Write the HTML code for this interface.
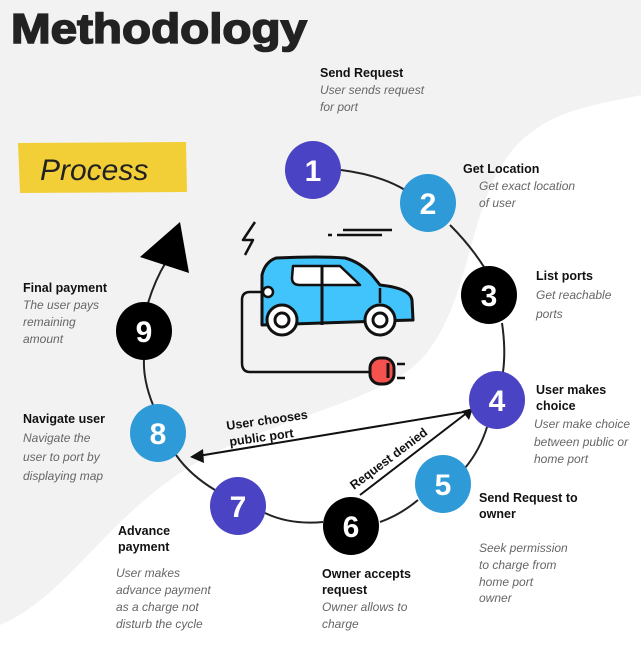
<!DOCTYPE html>
<html><head><meta charset="utf-8"><style>
html,body{margin:0;padding:0;}
body{width:641px;height:652px;overflow:hidden;background:#fff;}
svg{display:block;}
.t{font-family:"Liberation Sans",sans-serif;font-weight:bold;font-size:12.5px;fill:#111;}
.d{font-family:"Liberation Sans",sans-serif;font-style:italic;font-size:12px;fill:#666;}
.n{font-family:"Liberation Sans",sans-serif;font-weight:bold;font-size:30px;fill:#fff;text-anchor:middle;}
</style></head><body>
<svg width="641" height="652" viewBox="0 0 641 652">
<path d="M0,0 H641 V95 C600,105 540,108 505,160 C468,215 470,300 425,355 C385,405 250,420 170,480 C100,530 60,600 0,625 Z" fill="#f2f2f2"/>
<text x="11" y="43" font-family="Liberation Sans,sans-serif" font-weight="bold" font-size="42" fill="#222" stroke="#222" stroke-width="1.6" textLength="296" lengthAdjust="spacingAndGlyphs">Methodology</text>
<path d="M18,143 L186,142 L187,192 L20,193 Z" fill="#f3cf37"/>
<text x="40" y="180" font-family="Liberation Sans,sans-serif" font-style="italic" font-size="30" fill="#222">Process</text>
<g fill="none" stroke="#222" stroke-width="2">
<path d="M341,170 Q380,175 405,190"/>
<path d="M450,225 Q470,245 484,267"/>
<path d="M502,323 Q506,350 503,372"/>
<path d="M487,427 Q480,450 465,468"/>
<path d="M418,500 Q400,515 380,522"/>
<path d="M323,522 Q290,525 265,513"/>
<path d="M215,490 Q190,475 176,455"/>
<path d="M153,405 Q143,380 144,359"/>
<path d="M148,303 Q155,280 166,262"/>
</g>
<polygon points="140,257 180,222 189,273" fill="#000"/>
<line x1="470" y1="411" x2="198" y2="456" stroke="#111" stroke-width="2"/>
<polygon points="190,457 203,449 204,463" fill="#111"/>
<line x1="360" y1="495" x2="468" y2="412" stroke="#111" stroke-width="2"/>
<polygon points="473,408 462,411 469,420" fill="#111"/>
<text class="t" transform="translate(227,430) rotate(-8)">User chooses</text>
<text class="t" transform="translate(230,446) rotate(-8)">public port</text>
<text class="t" transform="translate(354,490) rotate(-37)">Request denied</text>
<g stroke="#111" stroke-width="3" fill="none" stroke-linejoin="round">
<path d="M262,310 L262,275 Q265,262 276,258 Q320,256 345,258 Q360,262 372,275 L380,285 Q410,288 412,300 L413,320 L262,325 Z" fill="#41c3fb"/>
<path d="M293,266 L340,266 L360,285 L300,285 Q292,285 292,278 Z" fill="#fff" stroke-width="2.5"/>
<line x1="322" y1="266" x2="322" y2="325"/>
<line x1="380" y1="288" x2="380" y2="303" stroke-width="2.5"/>
<circle cx="282" cy="320" r="15" fill="#fff"/><circle cx="282" cy="320" r="7"/>
<circle cx="380" cy="320" r="15" fill="#fff"/><circle cx="380" cy="320" r="7"/>
<circle cx="268" cy="292" r="5" fill="#fff" stroke-width="2.5"/>
<path d="M263,292 H250 Q242,292 242,300 V363 Q242,372 250,372 H372" stroke-width="2.5"/>
<rect x="370" y="358" width="24" height="26" rx="10" fill="#f5514f"/>
<line x1="388" y1="363" x2="388" y2="378"/>
<line x1="397" y1="364" x2="405" y2="364" stroke-width="2.5"/>
<line x1="397" y1="378" x2="405" y2="378" stroke-width="2.5"/>
<path d="M255,222 L243,240 L253,240 L245,255" stroke-width="2.5"/>
<line x1="343" y1="230" x2="392" y2="230" stroke-width="2.5"/>
<line x1="337" y1="235" x2="382" y2="235" stroke-width="2.5"/>
<line x1="328" y1="235" x2="332" y2="235" stroke-width="2.5"/>
</g>
<g>
<ellipse cx="313" cy="170" rx="28" ry="29" fill="#4a44c4"/><text class="n" x="313" y="181">1</text>
<ellipse cx="428" cy="203" rx="28" ry="29" fill="#2f9ad8"/><text class="n" x="428" y="214">2</text>
<ellipse cx="489" cy="295" rx="28" ry="29" fill="#000"/><text class="n" x="489" y="306">3</text>
<ellipse cx="497" cy="400" rx="28" ry="29" fill="#4a44c4"/><text class="n" x="497" y="411">4</text>
<ellipse cx="443" cy="484" rx="28" ry="29" fill="#2f9ad8"/><text class="n" x="443" y="495">5</text>
<ellipse cx="351" cy="526" rx="28" ry="29" fill="#000"/><text class="n" x="351" y="537">6</text>
<ellipse cx="238" cy="506" rx="28" ry="29" fill="#4a44c4"/><text class="n" x="238" y="517">7</text>
<ellipse cx="158" cy="433" rx="28" ry="29" fill="#2f9ad8"/><text class="n" x="158" y="444">8</text>
<ellipse cx="144" cy="331" rx="28" ry="29" fill="#000"/><text class="n" x="144" y="342">9</text>
</g>
<text class="t" x="320" y="77">Send Request</text>
<text class="d" x="320" y="94">User sends request</text>
<text class="d" x="320" y="111">for port</text>
<text class="t" x="463" y="173">Get Location</text>
<text class="d" x="479" y="190">Get exact location</text>
<text class="d" x="479" y="207">of user</text>
<text class="t" x="536" y="280">List ports</text>
<text class="d" x="536" y="299" font-size="14">Get reachable</text>
<text class="d" x="536" y="318" font-size="14">ports</text>
<text class="t" x="536" y="394">User makes</text>
<text class="t" x="536" y="410">choice</text>
<text class="d" x="534" y="428">User make choice</text>
<text class="d" x="534" y="446">between public or</text>
<text class="d" x="534" y="463">home port</text>
<text class="t" x="479" y="502">Send Request to</text>
<text class="t" x="479" y="518">owner</text>
<text class="d" x="479" y="552">Seek permission</text>
<text class="d" x="479" y="569">to charge from</text>
<text class="d" x="479" y="586">home port</text>
<text class="d" x="479" y="602">owner</text>
<text class="t" x="322" y="578">Owner accepts</text>
<text class="t" x="322" y="594">request</text>
<text class="d" x="322" y="611">Owner allows to</text>
<text class="d" x="322" y="628">charge</text>
<text class="t" x="118" y="535">Advance</text>
<text class="t" x="118" y="551">payment</text>
<text class="d" x="116" y="577">User makes</text>
<text class="d" x="116" y="594">advance payment</text>
<text class="d" x="116" y="611">as a charge not</text>
<text class="d" x="116" y="628">disturb the cycle</text>
<text class="t" x="23" y="423">Navigate user</text>
<text class="d" x="23" y="442" font-size="14">Navigate the</text>
<text class="d" x="23" y="461" font-size="14">user to port by</text>
<text class="d" x="23" y="480" font-size="14">displaying map</text>
<text class="t" x="23" y="292">Final payment</text>
<text class="d" x="23" y="309">The user pays</text>
<text class="d" x="23" y="326">remaining</text>
<text class="d" x="23" y="343">amount</text>
</svg>
</body></html>
